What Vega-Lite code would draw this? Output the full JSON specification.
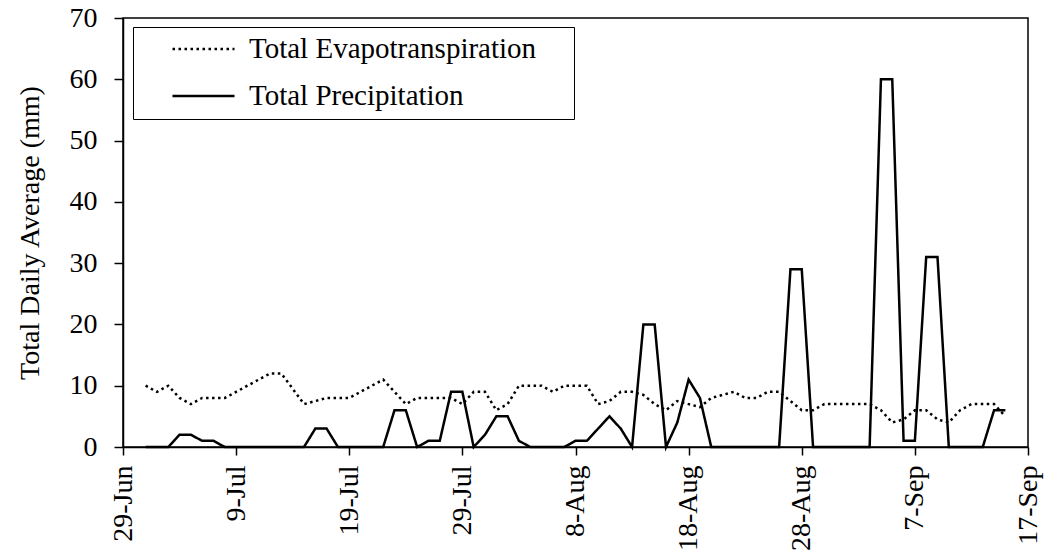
{
  "$schema": "https://vega.github.io/schema/vega-lite/v6.json",
  "width": 905,
  "height": 429,
  "autosize": {"type": "none"},
  "padding": {"left": 123, "top": 18, "right": 19, "bottom": 107},
  "background": "white",
  "config": {
    "font": "Liberation Serif",
    "view": {"stroke": "black", "strokeWidth": 1.5},
    "axis": {
      "grid": false,
      "domainColor": "black",
      "domainWidth": 1.5,
      "tickColor": "black",
      "tickWidth": 1.5,
      "labelColor": "black",
      "labelFont": "Liberation Serif",
      "labelFontSize": 28,
      "titleFont": "Liberation Serif",
      "titleFontSize": 28,
      "titleFontWeight": "normal",
      "titleColor": "black"
    }
  },
  "data": {
    "values": [
      {"date": "2010-07-01", "et": 10, "precip": 0},
      {"date": "2010-07-02", "et": 9, "precip": 0},
      {"date": "2010-07-03", "et": 10, "precip": 0},
      {"date": "2010-07-04", "et": 8, "precip": 2},
      {"date": "2010-07-05", "et": 7, "precip": 2},
      {"date": "2010-07-06", "et": 8, "precip": 1},
      {"date": "2010-07-07", "et": 8, "precip": 1},
      {"date": "2010-07-08", "et": 8, "precip": 0},
      {"date": "2010-07-09", "et": 9, "precip": 0},
      {"date": "2010-07-10", "et": 10, "precip": 0},
      {"date": "2010-07-11", "et": 11, "precip": 0},
      {"date": "2010-07-12", "et": 12, "precip": 0},
      {"date": "2010-07-13", "et": 12, "precip": 0},
      {"date": "2010-07-14", "et": 9.5, "precip": 0},
      {"date": "2010-07-15", "et": 7, "precip": 0},
      {"date": "2010-07-16", "et": 7.5, "precip": 3},
      {"date": "2010-07-17", "et": 8, "precip": 3},
      {"date": "2010-07-18", "et": 8, "precip": 0},
      {"date": "2010-07-19", "et": 8, "precip": 0},
      {"date": "2010-07-20", "et": 9, "precip": 0},
      {"date": "2010-07-21", "et": 10, "precip": 0},
      {"date": "2010-07-22", "et": 11, "precip": 0},
      {"date": "2010-07-23", "et": 9, "precip": 6},
      {"date": "2010-07-24", "et": 7, "precip": 6},
      {"date": "2010-07-25", "et": 8, "precip": 0},
      {"date": "2010-07-26", "et": 8, "precip": 1},
      {"date": "2010-07-27", "et": 8, "precip": 1},
      {"date": "2010-07-28", "et": 8, "precip": 9},
      {"date": "2010-07-29", "et": 7, "precip": 9},
      {"date": "2010-07-30", "et": 9, "precip": 0},
      {"date": "2010-07-31", "et": 9, "precip": 2},
      {"date": "2010-08-01", "et": 6, "precip": 5},
      {"date": "2010-08-02", "et": 7, "precip": 5},
      {"date": "2010-08-03", "et": 10, "precip": 1},
      {"date": "2010-08-04", "et": 10, "precip": 0},
      {"date": "2010-08-05", "et": 10, "precip": 0},
      {"date": "2010-08-06", "et": 9, "precip": 0},
      {"date": "2010-08-07", "et": 10, "precip": 0},
      {"date": "2010-08-08", "et": 10, "precip": 1},
      {"date": "2010-08-09", "et": 10, "precip": 1},
      {"date": "2010-08-10", "et": 7, "precip": 3},
      {"date": "2010-08-11", "et": 7.5, "precip": 5},
      {"date": "2010-08-12", "et": 9, "precip": 3},
      {"date": "2010-08-13", "et": 9, "precip": 0},
      {"date": "2010-08-14", "et": 8.5, "precip": 20},
      {"date": "2010-08-15", "et": 7, "precip": 20},
      {"date": "2010-08-16", "et": 6, "precip": 0},
      {"date": "2010-08-17", "et": 7.5, "precip": 4},
      {"date": "2010-08-18", "et": 7, "precip": 11},
      {"date": "2010-08-19", "et": 6.5, "precip": 8},
      {"date": "2010-08-20", "et": 8, "precip": 0},
      {"date": "2010-08-21", "et": 8.5, "precip": 0},
      {"date": "2010-08-22", "et": 9, "precip": 0},
      {"date": "2010-08-23", "et": 8, "precip": 0},
      {"date": "2010-08-24", "et": 8, "precip": 0},
      {"date": "2010-08-25", "et": 9, "precip": 0},
      {"date": "2010-08-26", "et": 9, "precip": 0},
      {"date": "2010-08-27", "et": 7.5, "precip": 29},
      {"date": "2010-08-28", "et": 6, "precip": 29},
      {"date": "2010-08-29", "et": 6, "precip": 0},
      {"date": "2010-08-30", "et": 7, "precip": 0},
      {"date": "2010-08-31", "et": 7, "precip": 0},
      {"date": "2010-09-01", "et": 7, "precip": 0},
      {"date": "2010-09-02", "et": 7, "precip": 0},
      {"date": "2010-09-03", "et": 7, "precip": 0},
      {"date": "2010-09-04", "et": 6, "precip": 60},
      {"date": "2010-09-05", "et": 4, "precip": 60},
      {"date": "2010-09-06", "et": 4.5, "precip": 1},
      {"date": "2010-09-07", "et": 6, "precip": 1},
      {"date": "2010-09-08", "et": 6, "precip": 31},
      {"date": "2010-09-09", "et": 4.5, "precip": 31},
      {"date": "2010-09-10", "et": 4, "precip": 0},
      {"date": "2010-09-11", "et": 6, "precip": 0},
      {"date": "2010-09-12", "et": 7, "precip": 0},
      {"date": "2010-09-13", "et": 7, "precip": 0},
      {"date": "2010-09-14", "et": 7, "precip": 6},
      {"date": "2010-09-15", "et": 5, "precip": 6}
    ]
  },
  "transform": [{"fold": ["et", "precip"], "as": ["series", "value"]}],
  "mark": {"type": "line", "color": "black", "strokeWidth": 2.5},
  "encoding": {
    "x": {
      "field": "date",
      "type": "temporal",
      "scale": {
        "type": "utc",
        "domain": [
          {"year": 2010, "month": 6, "date": 29, "utc": true},
          {"year": 2010, "month": 9, "date": 17, "utc": true}
        ]
      },
      "axis": {
        "title": null,
        "values": [
          {"year": 2010, "month": 6, "date": 29, "utc": true},
          {"year": 2010, "month": 7, "date": 9, "utc": true},
          {"year": 2010, "month": 7, "date": 19, "utc": true},
          {"year": 2010, "month": 7, "date": 29, "utc": true},
          {"year": 2010, "month": 8, "date": 8, "utc": true},
          {"year": 2010, "month": 8, "date": 18, "utc": true},
          {"year": 2010, "month": 8, "date": 28, "utc": true},
          {"year": 2010, "month": 9, "date": 7, "utc": true},
          {"year": 2010, "month": 9, "date": 17, "utc": true}
        ],
        "labelExpr": "utcFormat(datum.value, '%-d-%b')",
        "labelAngle": 270,
        "labelAlign": "right",
        "labelBaseline": "middle",
        "labelPadding": 10,
        "tickSize": 8,
        "labelOverlap": false,
        "labelFlush": false
      }
    },
    "y": {
      "field": "value",
      "type": "quantitative",
      "scale": {"domain": [0, 70]},
      "axis": {
        "title": "Total Daily Average (mm)",
        "values": [0, 10, 20, 30, 40, 50, 60, 70],
        "tickSize": 9,
        "labelPadding": 17,
        "titlePadding": 25
      }
    },
    "strokeDash": {
      "field": "series",
      "type": "nominal",
      "scale": {"domain": ["et", "precip"], "range": [[2.5, 3.5], [1, 0]]},
      "legend": {
        "title": " ",
        "titleOrient": "right",
        "titlePadding": 30,
        "titleFontSize": 29,
        "titleFont": "Liberation Serif",
        "orient": "none",
        "legendX": 10,
        "legendY": 9,
        "labelExpr": "datum.label == 'et' ? 'Total Evapotranspiration' : 'Total Precipitation'",
        "symbolType": "stroke",
        "symbolSize": 3844,
        "symbolStrokeWidth": 2.5,
        "symbolStrokeColor": "black",
        "labelFontSize": 29,
        "labelFont": "Liberation Serif",
        "labelColor": "black",
        "labelLimit": 600,
        "labelOffset": 13,
        "symbolOffset": 30,
        "padding": 8,
        "rowPadding": 18,
        "clipHeight": 28,
        "strokeColor": "black",
        "fillColor": "white"
      }
    }
  }
}
